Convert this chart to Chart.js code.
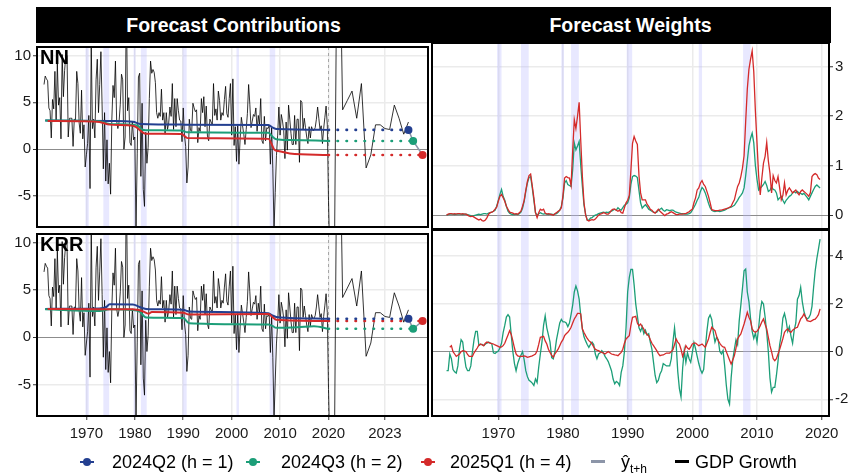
<!DOCTYPE html>
<html>
<head>
<meta charset="utf-8">
<script src="https://cdn.jsdelivr.net/npm/chart.js@4.4.1/dist/chart.umd.min.js"></script>
<style>
  body { margin: 0; width: 855px; height: 475px; position: relative; overflow: hidden; background: #fff;
         font-family: "Liberation Sans", Arial, sans-serif; }
  canvas { position: absolute; }
  .bar { position: absolute; left: 36px; top: 7px; width: 795px; height: 36px; background: #000; }
  .hdr { position: absolute; top: 7px; height: 36px; line-height: 36px; color: #fff; font-weight: bold;
         font-size: 19.5px; text-align: center; }
  .tag { position: absolute; left: 40px; font-weight: bold; font-size: 20px; line-height: 20px; color: #000; }
  .lt { position: absolute; top: 452px; font-size: 18px; line-height: 20px; color: #000; white-space: nowrap; }
  .ln { position: absolute; top: 461px; height: 2px; width: 14px; }
  .pt { position: absolute; top: 458px; width: 8px; height: 8px; border-radius: 50%; }
</style>
</head>
<body>
<div class="bar"></div>
<div class="hdr" style="left:37px;width:393px">Forecast Contributions</div>
<div class="hdr" style="left:432px;width:397px">Forecast Weights</div>
<canvas id="nnContrib" width="432" height="188" style="left:0;top:43px"></canvas>
<canvas id="krrContrib" width="432" height="216" style="left:0;top:230px"></canvas>
<canvas id="nnWeights" width="425" height="188" style="left:430px;top:43px"></canvas>
<canvas id="krrWeights" width="425" height="216" style="left:430px;top:230px"></canvas>
<div class="tag" style="top:47px">NN</div>
<div class="tag" style="top:234px">KRR</div>

<div class="ln" style="left:80px;background:#233f90"></div><div class="pt" style="left:83px;background:#233f90"></div>
<div class="lt" style="left:112px">2024Q2 (h = 1)</div>
<div class="ln" style="left:246px;background:#1c9e78"></div><div class="pt" style="left:249px;background:#1c9e78"></div>
<div class="lt" style="left:281px">2024Q3 (h = 2)</div>
<div class="ln" style="left:421px;background:#d42a2a"></div><div class="pt" style="left:424px;background:#d42a2a"></div>
<div class="lt" style="left:450px">2025Q1 (h = 4)</div>
<div class="ln" style="left:591px;top:460px;height:3px;background:#8c95a8"></div>
<div class="lt" style="left:621px">ŷ<sub style="font-size:12px">t+h</sub></div>
<div class="ln" style="left:675px;top:460px;height:3px;background:#000"></div>
<div class="lt" style="left:695px">GDP Growth</div>

<script>
// quarterly GDP growth (annualised %), from 1961Q2
var gdpStart = 1961.25;
var gdpGrowth = [
  6.9, 7.8, 7.5,
  7.3, 4.4, 4.1, 1.2,  5.3, 4.3, 8.3, 3.0,  9.1, 4.7, 5.5, 1.1,  10.1, 5.6, 8.4, 10.0,
  10.0, 1.3, 3.3, 3.3,  3.3, 0.3, 3.2, 3.1,  8.3, 7.0, 2.8, 1.7,  6.3, 1.1, 2.6, -1.9,
  -0.6, 0.6, 3.6, -4.2,  11.3, 2.2, 3.2, 1.2,  7.4, 9.6, 3.9, 6.9,  10.4, 4.5, -2.1, 3.9,
  -3.4, 1.0, -3.7, -1.5,  -4.8, 3.1, 6.8, 5.5,  9.4, 3.0, 2.2, 2.9,  4.8, 8.0, 7.4, 0.0,
  1.3, 16.4, 4.1, 5.5,  0.7, 0.4, 3.0, 1.0,  1.3, -8.5, -0.5, 7.7,  8.1, -2.9, 4.9, -4.3,
  -6.1, 1.8, -1.5, 0.2,  5.4, 9.4, 8.1, 8.5,  8.2, 7.1, 3.9, 3.3,  3.9, 3.5, 6.4, 3.1,
  3.9, 1.6, 3.9, 2.1,  2.8, 4.5, 3.5, 7.0,  2.1, 5.4, 2.4, 5.4,  4.1, 3.1, 3.0, 0.8,
  4.4, 1.5, 0.3, -3.6,  -1.9, 3.2, 2.0, 1.9,  4.9, 4.4, 4.0, 4.2,  0.7, 2.3, 1.9, 5.4,
  3.9, 5.6, 2.4, 4.6,  1.4, 0.9, 3.2, 2.9,  2.6, 7.0, 3.6, 4.3,  3.1, 6.2, 5.2, 3.1,
  3.9, 3.6, 5.3, 6.7,  3.8, 3.4, 5.4, 7.0,  1.5, 7.5, 0.4, 2.4,  -1.3, 2.5, -1.6, 1.1,
  3.4, 2.5, 1.6, 0.5,  2.1, 3.8, 6.9, 4.8,  2.3, 3.0, 3.7, 3.5,  4.4, 1.9, 3.6, 2.6,
  5.4, 0.9, 0.6, 3.5,  0.9, 2.3, 2.2, 2.5,  -1.6, 2.3, -2.1, -8.5,  -4.6, -0.7, 1.5, 4.5,
  1.5, 3.7, 3.0, 2.0,  -1.0, 2.9, -0.1, 4.7,  3.2, 1.7, 0.5, 0.5,  3.6, 0.5, 3.2, 3.2,
  -1.4, 5.2, 5.0, 2.1,  3.3, 2.3, 1.3, 0.6,  2.4, 1.2, 2.4, 2.0,  2.0, 2.3, 3.2, 4.5,
  3.3, 2.1, 2.5, 0.6,  2.2, 3.4, 4.6, 2.6,  -5.5, -28.0, 34.8, 4.2,  5.2, 6.2, 3.3, 7.0,
  -2.0, -0.6, 2.6, 2.6,  2.2, 2.1, 4.7, 3.3,  1.6, 2.9
];

// forecast contributions (NN)
var nnH1Years = [1961.5, 1975, 1979.6, 1981.2, 1990, 2007.6, 2008.5, 2009.3, 2020];
var nnH1 = [3.05, 3.0, 2.92, 2.68, 2.62, 2.58, 2.3, 2.15, 2.06];
var nnH2Years = [1961.5, 1972.7, 1974.8, 1979.6, 1980.6, 1981.5, 1982.3, 1989.6, 1990.9, 2007.6, 2008.3, 2009.2, 2012, 2020];
var nnH2 = [3.05, 2.98, 2.7, 2.62, 2.5, 2.1, 2.03, 2.0, 1.8, 1.75, 1.4, 1.07, 0.98, 0.88];
var nnH4Years = [1962, 1969, 1972.7, 1974.8, 1979.6, 1980.3, 1981.6, 1982.3, 1989.6, 1990.9, 2007.6, 2008.2, 2008.8, 2009.6, 2012, 2020];
var nnH4 = [3.0, 2.98, 2.9, 2.62, 2.5, 2.35, 1.8, 1.65, 1.62, 1.18, 1.1, 0.6, -0.05, -0.2, -0.45, -0.62];

// forecast contributions (KRR)
var krrH1Years = [1961.5, 1972.7, 1974.1, 1974.8, 1979.6, 1981.0, 1982.3, 1990.0, 1991.2, 2007.6, 2008.4, 2009.2, 2012, 2020];
var krrH1 = [3.0, 3.05, 3.2, 3.48, 3.46, 3.2, 3.0, 2.9, 2.72, 2.55, 2.3, 2.15, 2.05, 1.95];
var krrH2Years = [1961.5, 1972.7, 1974.8, 1979.6, 1981.0, 1982.3, 1990.0, 1991.2, 2007.6, 2008.4, 2009.2, 2013.6, 2017.0, 2020];
var krrH2 = [2.95, 2.78, 2.95, 2.88, 2.7, 2.1, 2.03, 1.48, 1.34, 1.2, 1.0, 1.06, 1.17, 0.9];
var krrH4Years = [1962, 1979.6, 1981.6, 1982.9, 1983.5, 1990.0, 1991.2, 2007.6, 2008.4, 2009.2, 2020];
var krrH4 = [3.0, 2.95, 2.75, 2.5, 2.68, 2.6, 2.4, 2.45, 2.15, 1.85, 1.72];

// point forecasts
var fcLabels = ['2024Q2 (h = 1)', '2024Q3 (h = 2)', '2025Q1 (h = 4)'];
var fcDates = [2024.25, 2024.5, 2025.0];
var nnForecast = [2.06, 0.88, -0.62];
var krrForecast = [1.95, 0.90, 1.72];

// forecast weights, quarterly from 1962Q1
var weightStart = 1962.0;
var nnW2 = [
  0.00,0.01,0.02,0.02, 0.02,0.01,0.02,0.02, 0.02,0.02,0.01,0.02, 0.02,0.01,0.00,-0.01,
  -0.02,-0.01,0.00,0.01, 0.02,0.01,0.02,0.03, 0.03,0.02,0.04,0.05, 0.06,0.08,0.10,0.18,
  0.30,0.42,0.52,0.38, 0.30,0.18,0.08,0.04, 0.02,0.01,0.01,0.02, 0.01,0.03,0.06,0.14,
  0.28,0.48,0.65,0.76, 0.78,0.55,0.30,0.05, 0.00,0.03,0.05,0.03, 0.02,0.03,0.02,0.01,
  0.02,0.02,0.01,0.02, 0.03,0.06,0.10,0.18, 0.35,0.65,0.70,0.62, 0.60,0.58,0.92,1.46,
  1.32,1.40,1.49,1.00, 0.58,0.20,0.02,-0.10, -0.10,-0.06,-0.05,-0.02, 0.00,0.01,0.03,0.04,
  0.05,0.06,0.05,0.06, 0.05,0.07,0.08,0.10, 0.12,0.10,0.15,0.12, 0.10,0.15,0.20,0.22,
  0.25,0.35,0.62,0.78, 0.80,0.79,0.76,0.50, 0.25,0.14,0.18,0.21, 0.17,0.12,0.10,0.08,
  0.06,0.05,0.06,0.10, 0.12,0.14,0.10,0.08, 0.11,0.10,0.09,0.10, 0.10,0.08,0.06,0.05,
  0.04,0.03,0.03,0.02, 0.02,0.02,0.03,0.05, 0.10,0.16,0.22,0.30, 0.36,0.48,0.56,0.52,
  0.45,0.35,0.24,0.15, 0.10,0.08,0.07,0.08, 0.08,0.07,0.08,0.09, 0.10,0.12,0.14,0.15,
  0.16,0.18,0.20,0.25, 0.30,0.36,0.40,0.45, 0.55,0.80,1.10,1.40, 1.55,1.66,1.46,1.00,
  0.72,0.51,0.55,0.58, 0.62,0.68,0.60,0.48, 0.50,0.58,0.52,0.51, 0.45,0.31,0.35,0.38,
  0.30,0.24,0.30,0.34, 0.38,0.40,0.45,0.48, 0.45,0.48,0.45,0.44, 0.42,0.44,0.40,0.36,
  0.31,0.38,0.45,0.52, 0.58,0.61,0.58,0.55
];
var nnW4 = [
  0.00,0.02,0.03,0.03, 0.02,0.03,0.02,0.03, 0.03,0.02,0.03,0.02, 0.02,0.00,-0.02,-0.03,
  -0.02,-0.04,-0.06,-0.08, -0.10,-0.08,-0.11,-0.12, -0.10,-0.05,0.02,0.05, 0.06,0.08,0.12,0.16,
  0.28,0.38,0.42,0.35, 0.28,0.18,0.12,0.06, 0.05,0.04,0.02,0.03, 0.02,0.05,0.08,0.18,
  0.30,0.50,0.68,0.80, 0.83,0.60,0.35,0.05, -0.05,0.05,0.12,0.10, 0.12,0.04,0.02,0.03,
  0.02,0.01,0.00,0.03, 0.05,0.08,0.10,0.15, 0.40,0.75,0.78,0.76, 0.75,0.60,1.30,1.93,
  1.75,2.00,2.28,1.50, 0.78,0.25,0.00,-0.10, -0.12,-0.10,-0.09,-0.10, -0.08,-0.04,0.00,0.02,
  0.03,0.05,0.04,0.02, 0.02,0.05,0.10,0.12, 0.12,0.10,0.08,0.10, 0.05,0.04,0.15,0.25,
  0.30,0.40,0.90,1.45, 1.59,1.50,1.43,0.80, 0.45,0.31,0.31,0.31, 0.22,0.18,0.12,0.10,
  0.06,0.04,0.08,0.12, 0.08,0.05,0.02,-0.01, 0.02,0.03,0.05,0.07, 0.05,0.03,0.01,0.01,
  0.02,0.02,0.02,0.03, 0.03,0.05,0.07,0.10, 0.12,0.25,0.35,0.51, 0.55,0.65,0.70,0.62,
  0.58,0.48,0.38,0.25, 0.11,0.10,0.09,0.09, 0.09,0.10,0.10,0.11, 0.12,0.13,0.14,0.16,
  0.18,0.25,0.31,0.45, 0.58,0.65,0.78,0.95, 1.20,1.90,2.55,2.95, 3.15,3.32,2.90,2.10,
  1.46,0.80,0.41,0.75, 1.05,1.19,1.47,1.10, 0.85,0.45,0.80,0.70, 0.65,0.78,0.55,0.31,
  0.40,0.65,0.41,0.50, 0.55,0.50,0.45,0.48, 0.51,0.45,0.41,0.48, 0.51,0.48,0.45,0.42,
  0.38,0.45,0.78,0.82, 0.84,0.82,0.75,0.72
];
var krrW2 = [
  -0.80,-0.80,-0.10,-0.30, -0.75,-0.85,-0.90,-0.60, 0.10,0.50,0.40,-0.20, -0.65,-0.80,-0.80,-0.60,
  0.00,0.50,0.85,0.85, 0.25,0.30,0.30,0.25, 0.32,0.35,0.40,0.36, 0.32,-0.05,-0.08,-0.02,
  0.02,0.15,0.35,0.80, 1.10,1.45,1.55,1.45, 0.70,0.00,-0.50,-0.80, -0.50,-0.30,-0.15,0.00,
  -0.35,-0.80,-1.05,-1.20, -1.25,-1.32,-1.42,-1.15, -1.30,-0.65,-0.10,0.40, 1.10,1.50,1.00,0.70,
  0.40,-0.25,-0.30,0.00, 0.50,0.85,1.20,1.35, 1.25,1.25,1.20,1.05, 1.20,1.55,1.95,2.50,
  2.75,2.55,2.20,1.50, 0.95,0.62,0.45,0.30, 0.18,0.30,0.40,0.30, -0.10,-0.30,-0.10,-0.05,
  0.04,-0.05,-0.20,-0.30, -0.42,-0.60,-0.80,-1.15, -1.35,-1.25,-1.30,-1.42, -0.87,-0.60,0.00,1.00,
  2.50,3.10,3.45,3.45, 2.80,2.00,1.50,1.00, 0.85,1.05,0.75,0.90, 0.70,0.75,0.40,0.10,
  -0.45,-1.00,-1.30,-1.20, -0.94,-0.80,-0.50,-0.55, -0.60,-0.60,-0.60,-0.30, 0.40,1.00,0.30,-0.85,
  -1.55,-1.90,-0.70,0.05, -0.45,-0.05,-0.30,-0.45, -0.03,0.38,0.12,-0.20, -0.50,-0.75,-0.90,-0.75,
  0.10,0.85,1.40,1.54, 1.35,0.80,0.40,0.60, 0.50,0.00,-0.10,0.05, -0.60,-1.40,-2.00,-2.20,
  -1.10,-0.35,0.10,0.50, 0.30,1.30,1.95,2.65, 3.39,3.46,2.50,2.10, 1.40,0.85,0.55,0.78,
  0.40,1.00,1.70,2.10, 2.00,1.45,0.80,0.00, -1.10,-1.70,-1.50,-1.50, -1.00,-0.40,0.30,0.70,
  1.40,1.60,1.30,0.85, 1.05,0.65,0.35,0.90, 1.20,2.20,2.35,2.70, 2.10,1.70,1.45,1.37,
  1.42,1.55,1.90,2.70, 3.40,3.90,4.30,4.72
];
var krrW4 = [
  null,null,0.18,0.25, 0.00,-0.10,-0.20,-0.15, -0.10,0.00,0.04,0.02, 0.00,-0.12,-0.20,-0.20,
  -0.20,-0.05,0.05,0.15, 0.28,0.32,0.28,0.25, 0.35,0.40,0.38,0.36, 0.34,0.32,0.28,0.25,
  0.22,0.18,0.20,0.25, 0.35,0.53,0.70,0.88, 0.72,0.45,0.15,-0.10, -0.18,-0.20,-0.20,-0.20,
  -0.18,-0.20,-0.24,-0.22, -0.20,-0.18,-0.14,-0.10, 0.04,0.30,0.60,0.62, 0.64,0.45,0.32,0.10,
  -0.03,-0.15,-0.24,-0.10, 0.00,0.10,0.25,0.40, 0.50,0.67,0.75,0.81, 0.90,1.02,1.20,1.37,
  1.48,1.60,1.60,1.58, 0.95,0.80,0.67,0.55, 0.46,0.40,0.32,0.20, 0.10,0.06,0.04,0.00,
  -0.03,-0.06,-0.10,-0.05, 0.00,-0.05,-0.10,-0.12, -0.14,-0.15,-0.17,-0.10, -0.03,0.10,0.35,0.53,
  0.60,0.67,1.10,1.44, 1.46,1.48,1.20,1.09, 1.16,1.05,0.95,0.80, 0.72,0.67,0.50,0.35,
  0.25,0.15,0.04,-0.08, -0.17,-0.15,-0.14,-0.10, -0.06,-0.06,-0.06,0.00, 0.08,0.30,0.53,0.40,
  0.32,0.10,-0.20,0.00, 0.25,0.15,0.10,0.20, 0.32,0.36,0.36,0.30, 0.25,0.28,0.32,0.25,
  0.18,0.35,0.53,0.80, 1.02,0.95,0.88,0.65, 0.46,0.35,0.25,0.20, 0.18,0.00,-0.17,-0.35,
  -0.52,-0.35,-0.17,0.15, 0.53,0.65,0.74,0.95, 1.16,1.40,1.65,1.44, 1.30,0.95,0.85,0.81,
  0.85,0.95,1.09,1.25, 1.37,1.15,0.95,0.60, 0.25,0.00,-0.30,-0.38, -0.30,-0.10,0.10,0.32,
  0.55,0.81,0.90,0.95, 0.85,0.81,0.90,0.95, 1.00,1.02,1.20,1.37, 1.45,1.58,1.45,1.30,
  1.28,1.26,1.30,1.34, 1.36,1.45,1.55,1.79
];

// recessions (shaded)
var recStart = [1969.8, 1973.5, 1979.75, 1981.25, 1989.85, 2001.0, 2007.85];
var recEnd = [1970.5, 1974.7, 1980.15, 1982.45, 1990.7, 2001.5, 2009.0];

var contribTicks = [1970, 1980, 1990, 2000, 2010, 2020, 2023];
var weightTicks = [1970, 1980, 1990, 2000, 2010, 2020];

var colors = ['#233f90', '#1c9e78', '#d42a2a'];
var BREAK = 2020, STRETCH = 3.884;   // the years after 2020 are drawn wider
function warp(t) { return t <= BREAK ? t : BREAK + (t - BREAK) * STRETCH; }

var tickFont = { family: 'Liberation Sans', size: 15 };

var panelDeco = {
  id: 'panelDeco',
  beforeDatasetsDraw: function (chart, args, opts) {
    var ctx = chart.ctx, a = chart.chartArea, x = chart.scales.x;
    ctx.save();
    ctx.beginPath(); ctx.rect(a.left, a.top, a.width, a.height); ctx.clip();
    ctx.fillStyle = 'rgba(185,185,255,0.33)';
    recStart.forEach(function (s, i) {
      var x0 = x.getPixelForValue(s), x1 = x.getPixelForValue(recEnd[i]);
      ctx.fillRect(x0, a.top, x1 - x0, a.height);
    });
    if (opts.breakLine) {
      var xb = x.getPixelForValue(BREAK);
      ctx.strokeStyle = '#a6a6a6'; ctx.lineWidth = 1; ctx.setLineDash([3, 3]);
      ctx.beginPath(); ctx.moveTo(xb, a.top); ctx.lineTo(xb, a.bottom); ctx.stroke();
    }
    ctx.restore();
  },
  afterDraw: function (chart) {
    var ctx = chart.ctx, a = chart.chartArea;
    ctx.save();
    ctx.strokeStyle = '#000'; ctx.lineWidth = 2;
    ctx.strokeRect(a.left, a.top, a.width, a.height);
    ctx.restore();
  }
};

function noPad(s) { s.paddingTop = 0; s.paddingBottom = 0; s.paddingLeft = 0; s.paddingRight = 0; }

function yScale(min, max, ticks, pos, width) {
  return {
    type: 'linear', position: pos, min: min, max: max,
    afterBuildTicks: function (s) { s.ticks = ticks.map(function (v) { return { value: v }; }); },
    afterFit: function (s) { s.width = width; noPad(s); },
    ticks: { font: tickFont, color: '#1a1a1a', padding: 2 },
    border: { display: false },
    grid: {
      color: function (c) { return c.tick && c.tick.value === 0 ? '#8c8c8c' : '#ebebeb'; },
      lineWidth: function (c) { return c.tick && c.tick.value === 0 ? 1 : 1.5; },
      tickColor: '#333', tickLength: 4, tickWidth: 1
    }
  };
}

function xScale(min, max, ticks, mapTick, showX) {
  return {
    type: 'linear', min: min, max: max,
    afterBuildTicks: function (s) { s.ticks = ticks.map(function (v) { return { value: mapTick(v) }; }); },
    afterFit: function (s) { s.height = showX ? 30 : 0; noPad(s); },
    ticks: {
      display: showX, font: tickFont, color: '#1a1a1a', padding: 5, maxRotation: 0, autoSkip: false,
      callback: function (v, i) { return ticks[i]; }
    },
    border: { display: false },
    grid: { color: '#ebebeb', lineWidth: 1.5, drawTicks: showX, tickColor: '#333', tickLength: 4, tickWidth: 1 }
  };
}

function contribChart(id, series, fc, showX) {
  var fcPts = fcDates.map(function (d, k) { return { x: warp(d), y: fc[k] }; });
  var ds = [];
  ds.push({ data: fcPts, showLine: false, pointRadius: 4, pointBorderWidth: 0,
            pointBackgroundColor: colors, order: 0 });
  ds.push({ data: fcPts, borderColor: '#8c95a8', borderWidth: 1.5, pointRadius: 0, order: 1 });
  series.forEach(function (s, k) {
    var ys = s[0], vs = s[1];
    ds.push({ data: ys.map(function (t, i) { return { x: t, y: vs[i] }; }),
              borderColor: colors[k], borderWidth: 2, pointRadius: 0,
              cubicInterpolationMode: 'monotone', order: 3 - k * 0.1 });
    ds.push({ data: [{ x: BREAK, y: vs[vs.length - 1] }, { x: warp(fcDates[k]), y: fc[k] }],
              borderColor: colors[k], borderWidth: 2.6, borderDash: [0.5, 8.5], borderCapStyle: 'round',
              pointRadius: 0, order: 2 });
  });
  ds.push({ data: gdpGrowth.map(function (v, i) { return { x: warp(gdpStart + i / 4), y: v }; }),
            borderColor: '#000', borderWidth: 0.8, pointRadius: 0, order: 5 });

  return new Chart(document.getElementById(id), {
    type: 'line',
    data: { datasets: ds },
    options: {
      responsive: false, animation: false, devicePixelRatio: 1,
      layout: { padding: { left: 0, right: 2, top: 0, bottom: showX ? 0 : 2 } },
      plugins: { legend: { display: false }, tooltip: { enabled: false }, panelDeco: { breakLine: true } },
      scales: {
        x: xScale(1959.8, warp(2025.29), contribTicks, warp, showX),
        y: yScale(-8.3, 10.9, [-5, 0, 5, 10], 'left', 37)
      }
    },
    plugins: [panelDeco]
  });
}

function weightChart(id, w2, w4, yMin, yMax, yTicks, showX) {
  function pts(arr) { return arr.map(function (v, i) { return { x: weightStart + i / 4, y: v }; }); }
  return new Chart(document.getElementById(id), {
    type: 'line',
    data: {
      datasets: [
        { data: pts(w4), borderColor: colors[2], borderWidth: 1.3, pointRadius: 0, order: 0 },
        { data: pts(w2), borderColor: colors[1], borderWidth: 1.3, pointRadius: 0, order: 1 }
      ]
    },
    options: {
      responsive: false, animation: false, devicePixelRatio: 1,
      layout: { padding: { left: 2, right: 0, top: 0, bottom: showX ? 0 : 2 } },
      plugins: { legend: { display: false }, tooltip: { enabled: false }, panelDeco: { breakLine: false } },
      scales: {
        x: xScale(1959.75, 2021.13, weightTicks, function (v) { return v; }, showX),
        y: yScale(yMin, yMax, yTicks, 'right', 26)
      }
    },
    plugins: [panelDeco]
  });
}

contribChart('nnContrib', [[nnH1Years, nnH1], [nnH2Years, nnH2], [nnH4Years, nnH4]], nnForecast, false);
contribChart('krrContrib', [[krrH1Years, krrH1], [krrH2Years, krrH2], [krrH4Years, krrH4]], krrForecast, true);
weightChart('nnWeights', nnW2, nnW4, -0.28, 3.48, [0, 1, 2, 3], false);
weightChart('krrWeights', krrW2, krrW4, -2.7, 5.1, [-2, 0, 2, 4], true);
</script>
</body>
</html>
